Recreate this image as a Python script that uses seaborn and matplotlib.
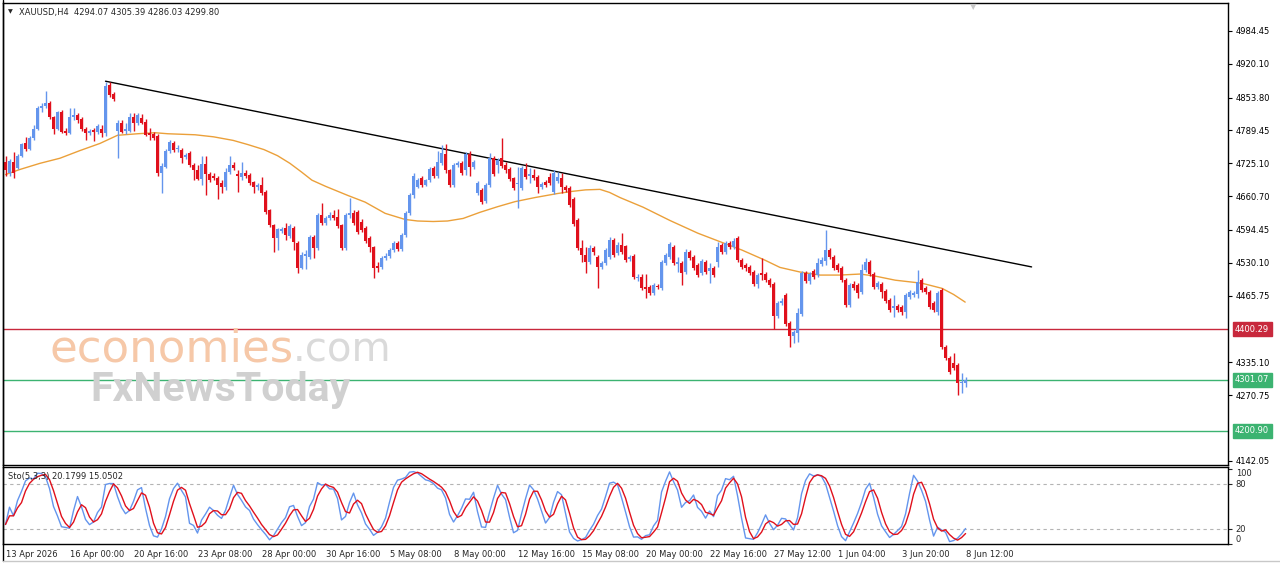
import numpy as np
import pandas as pd
import matplotlib
matplotlib.use("Agg")
import matplotlib.pyplot as plt
from matplotlib.lines import Line2D
import seaborn as sns

# XAUUSD H4 candles (bar 0 = 13 Apr 08:00)
opens = [4727, 4707, 4727, 4715, 4740, 4764, 4754, 4774, 4793, 4834,
         4838, 4844, 4815, 4793, 4826, 4789, 4785, 4815, 4819, 4811,
         4793, 4785, 4791, 4787, 4793, 4785, 4879, 4860, 4789, 4805,
         4789, 4789, 4815, 4805, 4813, 4807, 4785, 4783, 4779, 4707,
         4717, 4750, 4764, 4754, 4752, 4737, 4746, 4721, 4711, 4695,
         4723, 4705, 4701, 4697, 4686, 4678, 4709, 4721, 4705, 4699,
         4707, 4703, 4688, 4678, 4682, 4668, 4633, 4604, 4578, 4592,
         4598, 4582, 4598, 4568, 4520, 4543, 4541, 4580, 4559, 4623,
         4608, 4617, 4623, 4619, 4604, 4559, 4623, 4627, 4629, 4611,
         4598, 4578, 4561, 4524, 4522, 4539, 4543, 4555, 4568, 4557,
         4584, 4627, 4662, 4679, 4697, 4682, 4692, 4715, 4701, 4725,
         4744, 4711, 4682, 4721, 4725, 4711, 4744, 4717, 4666, 4672,
         4652, 4682, 4735, 4721, 4735, 4721, 4713, 4697, 4684, 4676,
         4713, 4701, 4703, 4699, 4678, 4688, 4699, 4668, 4690, 4697,
         4678, 4676, 4656, 4613, 4559, 4545, 4531, 4559, 4541, 4522,
         4529, 4541, 4574, 4549, 4565, 4563, 4537, 4543, 4500, 4502,
         4482, 4482, 4471, 4484, 4480, 4529, 4541, 4561, 4527, 4529,
         4512, 4551, 4541, 4525, 4510, 4531, 4514, 4520, 4531, 4565,
         4551, 4568, 4561, 4578, 4535, 4525, 4522, 4512, 4488, 4510,
         4508, 4496, 4488, 4426, 4451, 4467, 4412, 4387, 4392, 4430,
         4510, 4494, 4514, 4506, 4527, 4533, 4555, 4541, 4525, 4520,
         4496, 4447, 4488, 4486, 4473, 4516, 4531, 4508, 4482, 4488,
         4475, 4457, 4441, 4445, 4443, 4434, 4463, 4467, 4469, 4496,
         4480, 4473, 4451, 4434, 4476, 4365, 4344, 4334, 4330, 4295,
         4294.07]
highs = [4740, 4734, 4748, 4744, 4764, 4776, 4778, 4801, 4838, 4844,
         4867, 4848, 4817, 4828, 4830, 4795, 4834, 4834, 4823, 4815,
         4797, 4793, 4795, 4803, 4801, 4885, 4885, 4864, 4809, 4809,
         4805, 4824, 4824, 4823, 4822, 4811, 4795, 4787, 4783, 4725,
         4754, 4770, 4768, 4760, 4756, 4746, 4750, 4725, 4721, 4740,
         4740, 4709, 4707, 4701, 4692, 4715, 4740, 4727, 4711, 4727,
         4711, 4707, 4690, 4686, 4699, 4672, 4635, 4606, 4598, 4600,
         4608, 4606, 4602, 4572, 4551, 4555, 4584, 4584, 4627, 4647,
         4621, 4629, 4633, 4635, 4606, 4627, 4658, 4633, 4633, 4615,
         4602, 4582, 4563, 4531, 4543, 4549, 4559, 4572, 4572, 4588,
         4631, 4666, 4707, 4697, 4701, 4695, 4717, 4719, 4750, 4760,
         4762, 4713, 4725, 4730, 4729, 4748, 4750, 4731, 4690, 4676,
         4686, 4746, 4740, 4735, 4774, 4727, 4717, 4699, 4717, 4719,
         4725, 4715, 4713, 4703, 4688, 4692, 4707, 4711, 4709, 4707,
         4682, 4680, 4660, 4617, 4574, 4561, 4565, 4563, 4545, 4533,
         4559, 4580, 4578, 4570, 4588, 4565, 4545, 4547, 4508, 4508,
         4508, 4486, 4490, 4488, 4535, 4549, 4570, 4565, 4541, 4533,
         4557, 4555, 4545, 4529, 4537, 4535, 4529, 4523, 4570, 4569,
         4572, 4572, 4578, 4582, 4539, 4529, 4525, 4516, 4510, 4539,
         4512, 4500, 4492, 4455, 4461, 4471, 4416, 4398, 4441, 4514,
         4514, 4512, 4518, 4539, 4541, 4594, 4559, 4545, 4529, 4523,
         4500, 4490, 4494, 4490, 4527, 4539, 4535, 4512, 4494, 4492,
         4478, 4461, 4467, 4449, 4447, 4471, 4477, 4475, 4516, 4500,
         4484, 4477, 4455, 4475, 4480, 4369, 4348, 4353, 4334, 4314,
         4305.39]
lows = [4701, 4701, 4697, 4713, 4738, 4750, 4752, 4770, 4791, 4826,
        4834, 4811, 4783, 4790, 4785, 4781, 4783, 4809, 4805, 4789,
        4770, 4781, 4768, 4783, 4776, 4779, 4856, 4848, 4735, 4785,
        4783, 4787, 4789, 4801, 4803, 4779, 4770, 4770, 4701, 4666,
        4715, 4746, 4748, 4748, 4725, 4733, 4717, 4692, 4692, 4682,
        4662, 4688, 4692, 4656, 4666, 4672, 4705, 4711, 4668, 4693,
        4697, 4682, 4666, 4672, 4662, 4625, 4600, 4551, 4555, 4588,
        4574, 4578, 4555, 4510, 4518, 4518, 4537, 4539, 4555, 4604,
        4604, 4613, 4613, 4598, 4555, 4555, 4617, 4604, 4586, 4590,
        4568, 4551, 4500, 4512, 4518, 4535, 4539, 4551, 4553, 4553,
        4580, 4623, 4658, 4676, 4678, 4680, 4688, 4697, 4697, 4721,
        4707, 4678, 4678, 4717, 4703, 4703, 4701, 4713, 4662, 4645,
        4648, 4678, 4701, 4707, 4715, 4707, 4691, 4672, 4637, 4672,
        4695, 4686, 4693, 4666, 4674, 4678, 4682, 4664, 4686, 4666,
        4668, 4639, 4603, 4555, 4531, 4510, 4527, 4545, 4480, 4518,
        4525, 4537, 4541, 4545, 4547, 4531, 4533, 4498, 4494, 4476,
        4461, 4467, 4467, 4478, 4476, 4525, 4537, 4525, 4512, 4486,
        4508, 4535, 4516, 4502, 4506, 4508, 4490, 4502, 4522, 4547,
        4547, 4557, 4557, 4531, 4518, 4514, 4506, 4484, 4480, 4496,
        4492, 4482, 4400, 4422, 4447, 4406, 4365, 4373, 4375, 4426,
        4490, 4488, 4498, 4502, 4523, 4525, 4537, 4516, 4512, 4492,
        4443, 4443, 4476, 4461, 4469, 4512, 4504, 4478, 4478, 4461,
        4451, 4433, 4424, 4433, 4428, 4422, 4459, 4463, 4461, 4473,
        4469, 4439, 4433, 4428, 4361, 4340, 4312, 4320, 4271, 4275,
        4286.03]
closes = [4711, 4729, 4707, 4740, 4762, 4754, 4774, 4793, 4834, 4838,
          4844, 4815, 4793, 4826, 4787, 4785, 4815, 4819, 4809, 4793,
          4785, 4789, 4787, 4799, 4785, 4877, 4858, 4852, 4805, 4787,
          4793, 4815, 4805, 4819, 4805, 4781, 4780, 4774, 4707, 4719,
          4750, 4766, 4752, 4756, 4735, 4742, 4721, 4711, 4695, 4723,
          4705, 4692, 4697, 4682, 4678, 4709, 4721, 4715, 4701, 4707,
          4701, 4686, 4678, 4682, 4666, 4629, 4604, 4578, 4596, 4596,
          4584, 4602, 4570, 4520, 4545, 4547, 4580, 4559, 4623, 4608,
          4617, 4623, 4617, 4602, 4559, 4623, 4627, 4608, 4590, 4594,
          4572, 4561, 4520, 4520, 4539, 4543, 4555, 4568, 4557, 4584,
          4627, 4662, 4701, 4693, 4682, 4692, 4713, 4701, 4727, 4746,
          4711, 4682, 4721, 4725, 4707, 4744, 4717, 4727, 4686, 4649,
          4682, 4735, 4705, 4731, 4719, 4711, 4695, 4676, 4686, 4715,
          4699, 4705, 4697, 4678, 4684, 4682, 4686, 4707, 4699, 4678,
          4672, 4643, 4607, 4559, 4545, 4531, 4559, 4551, 4522, 4529,
          4555, 4574, 4545, 4565, 4551, 4535, 4541, 4502, 4502, 4480,
          4478, 4471, 4486, 4482, 4531, 4545, 4567, 4529, 4531, 4510,
          4551, 4539, 4520, 4506, 4533, 4512, 4520, 4506, 4561, 4551,
          4568, 4561, 4572, 4535, 4522, 4520, 4510, 4488, 4506, 4506,
          4496, 4486, 4426, 4451, 4455, 4410, 4387, 4394, 4432, 4510,
          4494, 4508, 4502, 4529, 4535, 4555, 4541, 4520, 4516, 4496,
          4447, 4486, 4480, 4471, 4516, 4531, 4508, 4482, 4490, 4473,
          4455, 4437, 4445, 4437, 4434, 4467, 4473, 4471, 4492, 4476,
          4473, 4443, 4437, 4471, 4365, 4344, 4316, 4324, 4295, 4297,
          4299.80]

# orange moving average, sampled along the curve
ma_bar = [0, 3.6, 8.6, 13.6, 18.6, 23.6, 28, 33, 37.4, 40.6, 47.4, 52, 56.9,
          60.5, 64.6, 68, 71.1, 74, 76.6, 80, 85.6, 89.9, 94.9, 99.9, 103,
          106.9, 110.5, 114.4, 118.6, 123, 127.4, 132.4, 138.1, 141.6, 145,
          148.6, 151, 153.6, 159.4, 166.1, 173.1, 179.1, 184.1, 189.9, 193.6,
          198.6, 203.6, 208.5, 213.6, 217.4, 222.4, 229.1, 234.1, 237, 239.9]
ma_price = [4703, 4713, 4725, 4735, 4750, 4764, 4780, 4783, 4785, 4783, 4781,
            4777, 4770, 4762, 4752, 4740, 4725, 4708, 4692, 4680, 4662, 4649,
            4627, 4615, 4612, 4611, 4612, 4617, 4629, 4640, 4650, 4658, 4666,
            4670, 4673, 4674, 4668, 4658, 4639, 4613, 4588, 4570, 4555, 4535,
            4521, 4512, 4506, 4506, 4508, 4504, 4496, 4490, 4480, 4468, 4453]

# descending trendline anchors
trend_bar = [25, 256.5]
trend_price = [4886.0, 4522.0]

red_level = 4400.29
green_levels = [4301.07, 4200.90]

price_ticks = [4984.45, 4920.10, 4853.80, 4789.45, 4725.10, 4660.70,
               4594.45, 4530.10, 4465.75, 4335.10, 4270.75, 4142.05]
time_labels = ["13 Apr 2026", "16 Apr 00:00", "20 Apr 16:00", "23 Apr 08:00",
               "28 Apr 00:00", "30 Apr 16:00", "5 May 08:00", "8 May 00:00",
               "12 May 16:00", "15 May 08:00", "20 May 00:00", "22 May 16:00",
               "27 May 12:00", "1 Jun 04:00", "3 Jun 20:00", "8 Jun 12:00"]
label_every = 16

BLUE = "#6495ed"
RED = "#e0101c"
ORANGE = "#eba03a"
LVL_RED = "#c8283c"
LVL_GREEN = "#3cb371"

df = pd.DataFrame({"open": opens, "high": highs, "low": lows, "close": closes})
df["bar"] = np.arange(len(df))

# Stochastic(5,3,3) from the candles
hh = df["high"].rolling(5, min_periods=1).max()
ll = df["low"].rolling(5, min_periods=1).min()
df["k"] = 100 * (df["close"] - ll).rolling(3, min_periods=1).sum() / (hh - ll).rolling(3, min_periods=1).sum()
df["d"] = df["k"].rolling(3, min_periods=1).mean()

sns.set_style("white")
plt.rcParams["font.family"] = ["DejaVu Sans"]
plt.rcParams["font.size"] = 6

W, H = 1280, 567
fig = plt.figure(figsize=(12.8, 5.67), dpi=100)


def box(l, t, r, b):
    return [l / W, 1 - b / H, (r - l) / W, (b - t) / H]


ax = fig.add_axes(box(3, 3, 1228, 464.5))
ax2 = fig.add_axes(box(3, 467, 1228, 544), sharex=ax)

# candles
up = df["close"] >= df["open"]
cols = np.where(up, BLUE, RED)
ax.vlines(df["bar"], df["low"], df["high"], colors=cols, lw=1, zorder=3)
body = np.maximum((df["close"] - df["open"]).abs(), 1.2)
ax.bar(df["bar"], body, bottom=np.minimum(df["open"], df["close"]),
       width=0.72, color=cols, linewidth=0, zorder=3)

sns.lineplot(x=ma_bar, y=ma_price, ax=ax, color=ORANGE, lw=1, zorder=2)
sns.lineplot(x=trend_bar, y=trend_price, ax=ax, color="black", lw=1, zorder=2)

ax.axhline(red_level, color=LVL_RED, lw=1, zorder=1)
for lv in green_levels:
    ax.axhline(lv, color=LVL_GREEN, lw=1, zorder=1)

for lv, c in [(red_level, LVL_RED)] + [(g, LVL_GREEN) for g in green_levels]:
    ax.text(1.0058, lv, f"{lv:.2f}", transform=ax.get_yaxis_transform(),
            ha="left", va="center", color="white", fontsize=6,
            bbox=dict(boxstyle="square,pad=0.3", fc=c, ec=c), clip_on=False)

# watermark
fig.text(50 / W, 1 - 361 / H, "economies", fontsize=32.5, color="#f6c8a8",
         ha="left", va="baseline", zorder=0)
fig.text(293 / W, 1 - 361 / H, ".com", fontsize=29, color="#dadada",
         ha="left", va="baseline", zorder=0)
fig.text(90 / W, 1 - 401 / H, "FxNewsToday", fontsize=29.5, fontweight="bold",
         family="Roboto", color="#d0d0d0", ha="left", va="baseline", zorder=0)

ax.set_xlim(-0.625, 305.6)
ax.set_ylim(4134.7, 5039.3)
ax.set_yticks(price_ticks, [f"{p:.2f}" for p in price_ticks])
ax.yaxis.tick_right()
ax.tick_params(axis="y", direction="out", length=3, width=0.8, pad=2.5,
               labelsize=6, colors="black")
ax.tick_params(axis="x", bottom=False, labelbottom=False)
ax.set_xlabel("")
ax.set_ylabel("")

# stochastic panel
ax2.axhline(80, color="#b4b4b4", lw=0.8, ls=(0, (3, 3)))
ax2.axhline(20, color="#b4b4b4", lw=0.8, ls=(0, (3, 3)))
sns.lineplot(data=df, x="bar", y="k", ax=ax2, color=BLUE, lw=1)
sns.lineplot(data=df, x="bar", y="d", ax=ax2, color=RED, lw=1)
ax2.set_ylim(-0.4, 102.3)
ax2.set_yticks([0, 20, 80, 100], ["0", "20", "80", "100"])
ax2.yaxis.tick_right()
ax2.tick_params(axis="y", direction="out", length=3, width=0.8, pad=2.5, labelsize=6)
for t in ax2.get_yticklabels():
    if t.get_text() == "100":
        t.set_va("top")
    elif t.get_text() == "0":
        t.set_va("bottom")
ticks = np.arange(len(time_labels)) * label_every
ax2.set_xticks(ticks)
ax2.set_xticklabels(time_labels, ha="left")
ax2.tick_params(axis="x", direction="out", length=3, width=0.8, pad=1.5, labelsize=6)
ax2.set_xlabel("")
ax2.set_ylabel("")
ax2.text(0.004, 0.88, "Sto(5,3,3) 20.1799 15.0502", transform=ax2.transAxes,
         ha="left", va="center", fontsize=6)

for a in (ax, ax2):
    for s in a.spines.values():
        s.set_color("black")
        s.set_linewidth(1)

# header and window frame
fig.text(8 / W, 1 - 12 / H, "\u25bc", fontsize=4.5, ha="left", va="center")
fig.text(19 / W, 1 - 12 / H, "XAUUSD,H4  4294.07 4305.39 4286.03 4299.80",
         fontsize=6, ha="left", va="center")
fig.text(973 / W, 1 - 7 / H, "\u25bc", fontsize=6, color="#c8c8c8",
         ha="center", va="center")
fig.add_artist(Line2D([3 / W, 3 / W], [1 - 561 / H, 1], color="black", lw=1))
fig.add_artist(Line2D([3 / W, 1], [1 - 561 / H, 1 - 561 / H], color="#c8c8c8", lw=1))

fig.savefig("out.png", dpi=100, facecolor="white")
